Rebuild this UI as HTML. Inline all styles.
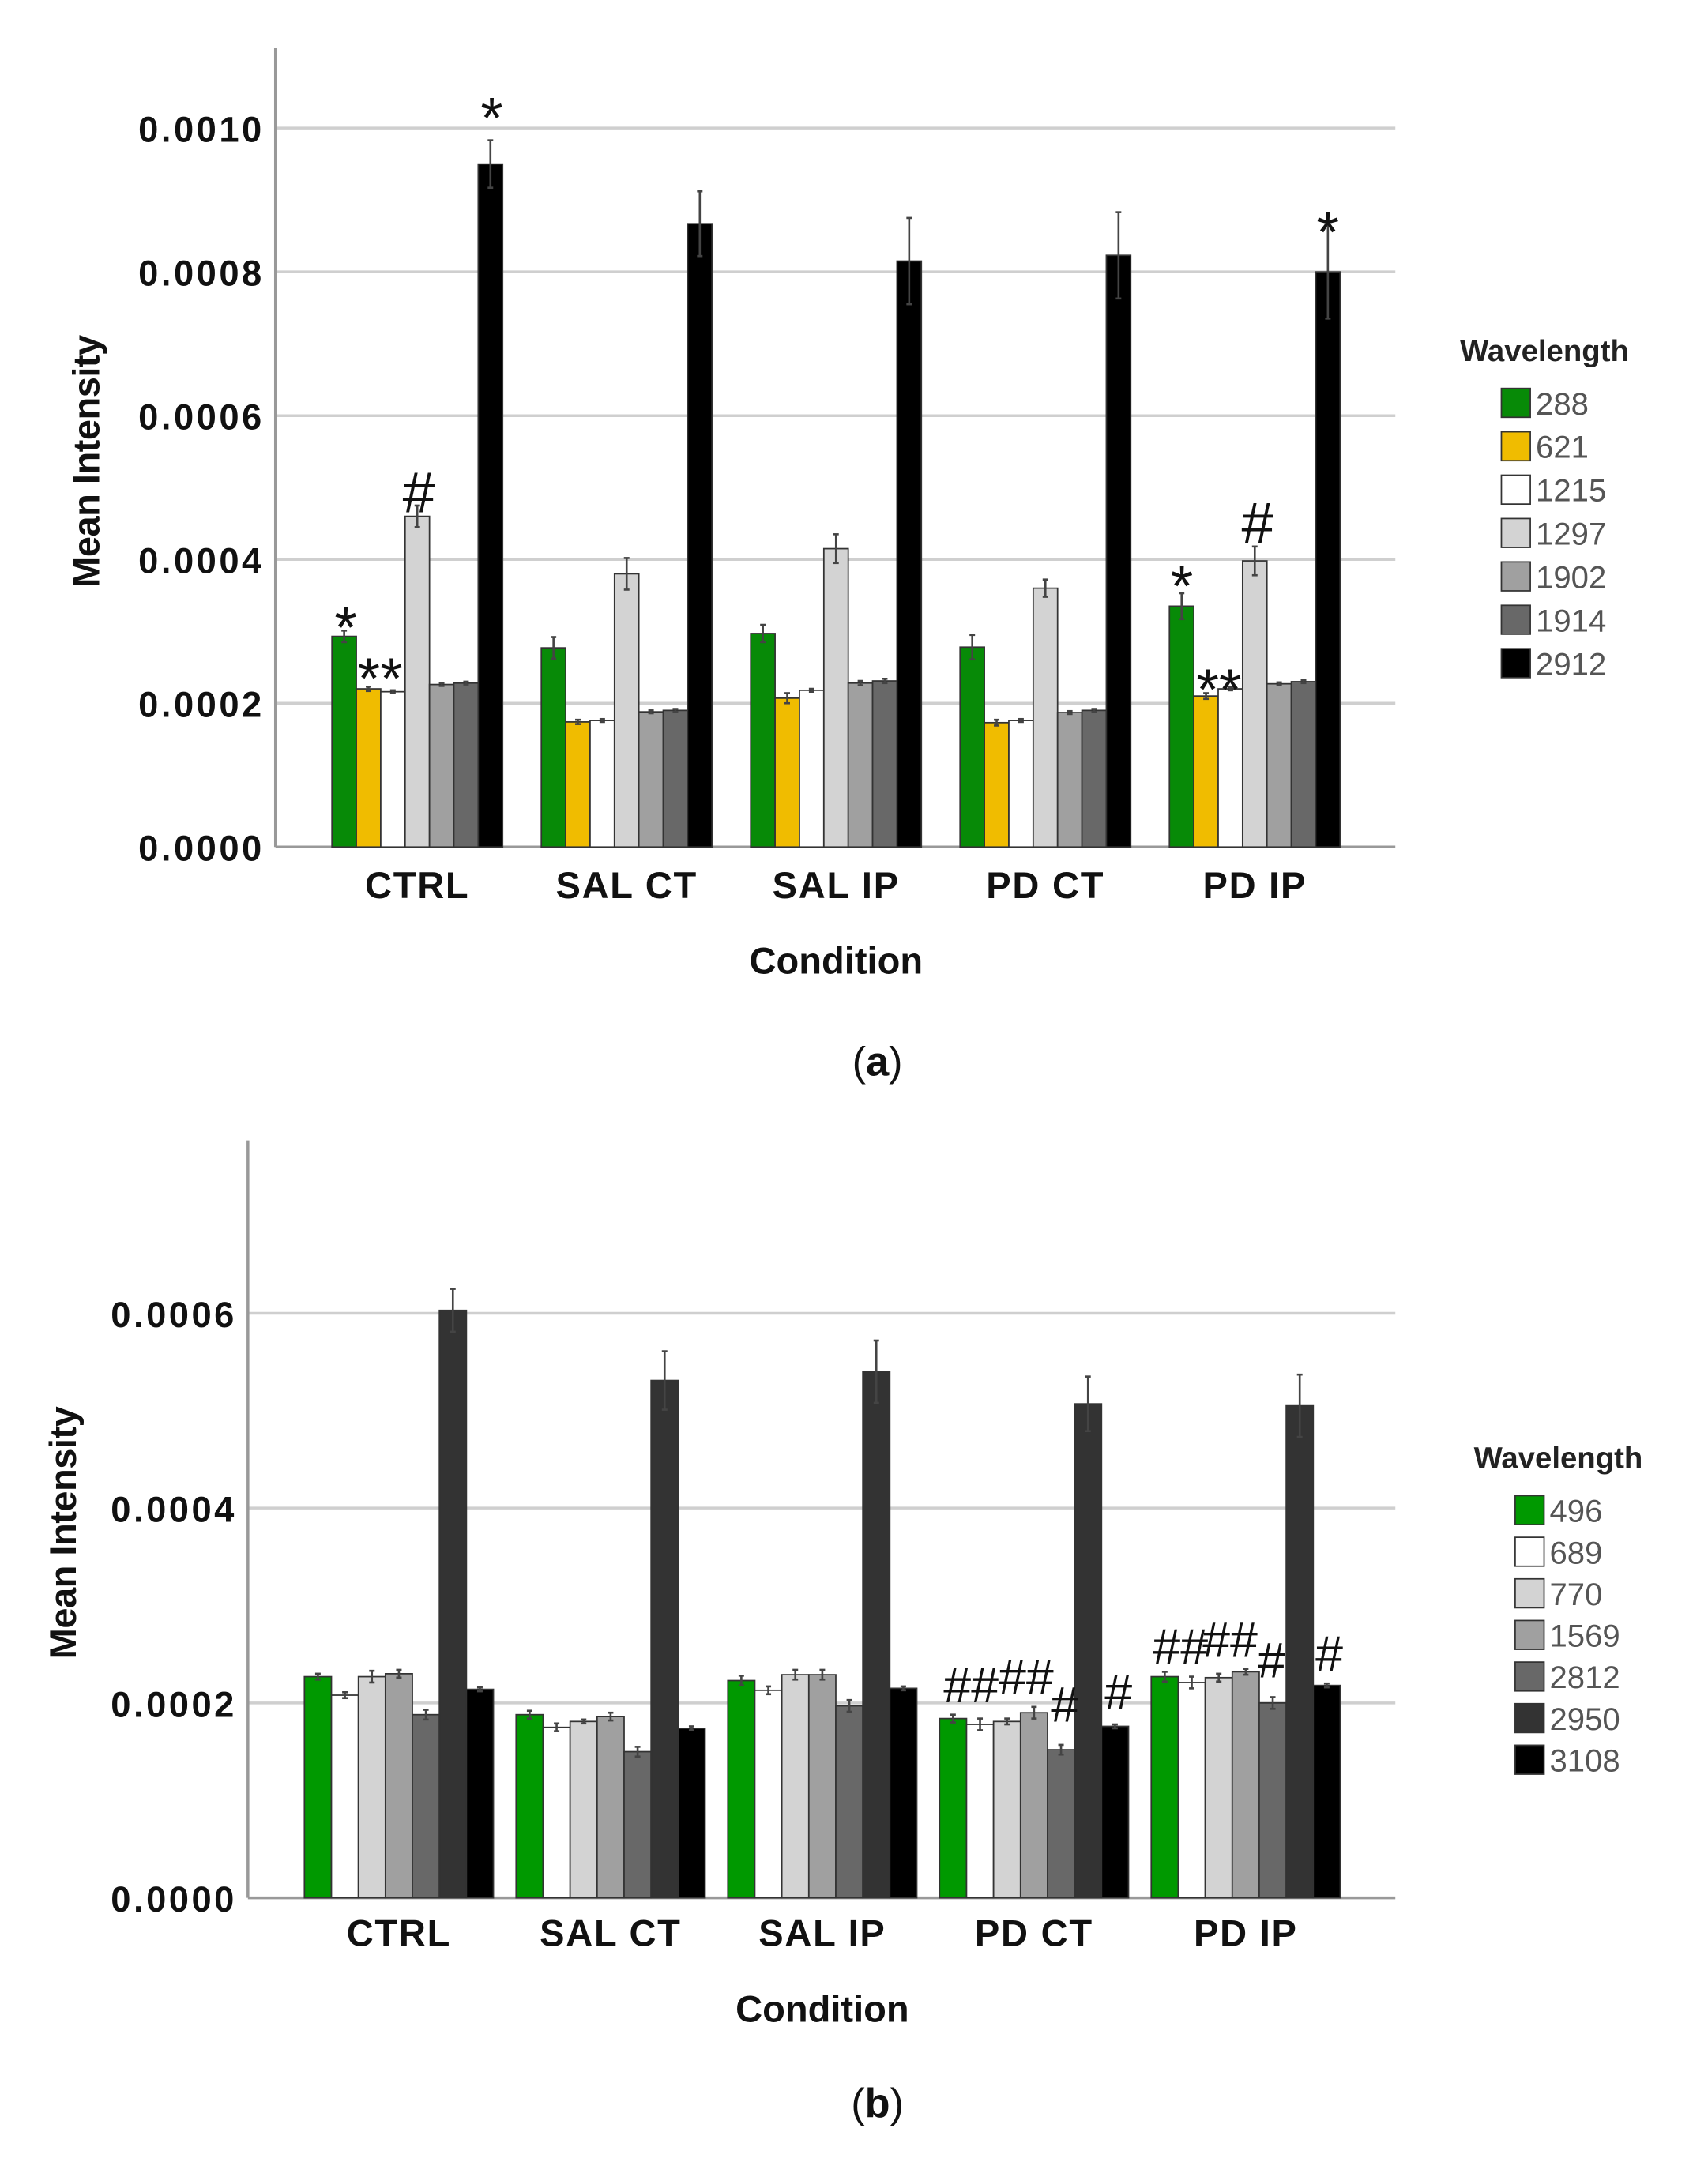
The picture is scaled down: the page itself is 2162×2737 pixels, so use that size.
<!DOCTYPE html>
<html><head><meta charset="utf-8"><style>
html,body{margin:0;padding:0;background:#fff}
svg{display:block}
text{font-family:"Liberation Sans",Arial,sans-serif}
</style></head><body>
<svg id="s" width="2162" height="2737" viewBox="0 0 1240 1569.8" preserveAspectRatio="none" xmlns="http://www.w3.org/2000/svg">
<rect width="1240" height="1570" fill="#fff"/>
<g id="g"></g>
</svg>
<script>
const NS="http://www.w3.org/2000/svg",G=document.getElementById('g');
function el(t,a,txt){const e=document.createElementNS(NS,t);for(const k in a)e.setAttribute(k,a[k]);if(txt!==undefined)e.textContent=txt;G.appendChild(e);return e;}
function chart(o){
  o.ticks.forEach((t,i)=>{const y=o.base-i*o.step;
    if(i>0)el('line',{x1:o.ax,x2:o.right,y1:y,y2:y,stroke:'#cfcfcf','stroke-width':2});
    el('text',{x:o.ax-8,y:y+10,'text-anchor':'end','font-size':26,'font-weight':'bold','letter-spacing':2,fill:'#111'},t);});
  el('line',{x1:o.ax,x2:o.ax,y1:o.top,y2:o.base,stroke:'#999','stroke-width':2});
  el('line',{x1:o.ax,x2:o.right,y1:o.base,y2:o.base,stroke:'#999','stroke-width':2});
  const u=o.step/2;
  o.data.forEach((grp,gi)=>{const gx=o.g0+gi*o.gs;
    grp.forEach((v,bi)=>{const x=gx+bi*o.bw,h=v[0]*u,y=o.base-h;
      el('rect',{x:x,y:y,width:o.bw,height:h,fill:o.colors[bi],stroke:'#333','stroke-width':1});
      const ee=v[1]*u,cx=x+o.bw/2;
      el('line',{x1:cx,x2:cx,y1:y-ee,y2:y+ee,stroke:'#444','stroke-width':1.5});
      el('line',{x1:cx-2,x2:cx+2,y1:y-ee,y2:y-ee,stroke:'#444','stroke-width':1.5});
      el('line',{x1:cx-2,x2:cx+2,y1:y+ee,y2:y+ee,stroke:'#444','stroke-width':1.5});
    });
    el('text',{x:gx+o.bw*3.5,y:o.catY,'text-anchor':'middle','font-size':27,'font-weight':'bold','letter-spacing':1,fill:'#111'},o.cats[gi]);
  });
  el('text',{x:o.condX,y:o.catY+55,'text-anchor':'middle','font-size':27,'font-weight':'bold',fill:'#111'},'Condition');
  el('text',{transform:`translate(${o.titX},${o.titY}) rotate(-90)`,'text-anchor':'middle','font-size':27,'font-weight':'bold',fill:'#111','letter-spacing':'-0.3'},'Mean Intensity');
  el('text',{x:o.lx-30,y:o.ly,'font-size':22,'font-weight':'bold',fill:'#222'},'Wavelength');
  o.leg.forEach((l,i)=>{const y=o.ly+20+i*o.lsp;
    el('rect',{x:o.lx,y:y,width:21,height:21,fill:o.colors[i],stroke:'#333','stroke-width':1});
    el('text',{x:o.lx+25,y:y+19,'font-size':23,fill:'#555'},l);});
  o.ann.forEach(a=>el('text',{x:a[0],y:a[1],'text-anchor':'middle','font-size':a[3]||42,fill:'#111'},a[2]));
}
const cats=['CTRL','SAL CT','SAL IP','PD CT','PD IP'];
chart({cats:cats,ax:200,right:1013,top:35,base:615,step:104.4,
 ticks:['0.0000','0.0002','0.0004','0.0006','0.0008','0.0010'],
 g0:241,gs:152,bw:17.7,catY:652,condX:607,titX:72,titY:335,
 colors:['#078a07','#f0bc00','#ffffff','#d3d3d3','#a0a0a0','#686868','#000000'],
 data:[
  [[2.93,.08],[2.20,.03],[2.16,.02],[4.60,.15],[2.26,.02],[2.28,.02],[9.50,.33]],
  [[2.77,.15],[1.74,.03],[1.76,.02],[3.80,.22],[1.88,.02],[1.90,.02],[8.67,.45]],
  [[2.97,.12],[2.07,.07],[2.18,.02],[4.15,.20],[2.28,.03],[2.31,.03],[8.15,.60]],
  [[2.78,.17],[1.73,.04],[1.76,.02],[3.60,.12],[1.87,.02],[1.90,.02],[8.23,.60]],
  [[3.35,.18],[2.10,.04],[2.20,.02],[3.98,.20],[2.27,.02],[2.30,.02],[8.00,.65]]],
 lx:1090,ly:262,lsp:31.5,leg:['288','621','1215','1297','1902','1914','2912'],
 ann:[[251,470,'*'],[276,507,'**'],[304,372,'#'],[357,100,'*'],[858,440,'*'],[885,515,'**'],[913,394,'#'],[964,183,'*']]});
chart({cats:cats,ax:180,right:1013,top:828,base:1378,step:141.5,
 ticks:['0.0000','0.0002','0.0004','0.0006'],
 g0:221,gs:153.7,bw:19.6,catY:1413,condX:597,titX:55,titY:1113,
 colors:['#009900','#ffffff','#d3d3d3','#a0a0a0','#686868','#333333','#000000'],
 data:[
  [[2.27,.03],[2.08,.03],[2.27,.06],[2.30,.04],[1.88,.05],[6.03,.22],[2.14,.02]],
  [[1.88,.04],[1.75,.04],[1.81,.02],[1.86,.04],[1.50,.05],[5.31,.30],[1.74,.02]],
  [[2.23,.05],[2.13,.04],[2.29,.05],[2.29,.05],[1.97,.06],[5.40,.32],[2.15,.02]],
  [[1.84,.04],[1.78,.06],[1.81,.03],[1.90,.06],[1.52,.05],[5.07,.28],[1.76,.02]],
  [[2.27,.05],[2.21,.06],[2.26,.04],[2.32,.03],[2.00,.06],[5.05,.32],[2.18,.02]]],
 lx:1100,ly:1066,lsp:30.2,leg:['496','689','770','1569','2812','2950','3108'],
 ann:[[705,1236,'##',36],[745,1230,'##',36],[773,1250,'#',36],[812,1241,'#',36],[857,1208,'##',36],[893,1203,'##',36],[923,1218,'#',36],[965,1213,'#',36]]});
el('text',{x:637,y:781,'text-anchor':'middle','font-size':30,'font-family':'Liberation Serif',fill:'#111'},'(a)').innerHTML='(<tspan font-weight="bold">a</tspan>)';
el('text',{x:637,y:1537,'text-anchor':'middle','font-size':30,'font-family':'Liberation Serif',fill:'#111'},'(b)').innerHTML='(<tspan font-weight="bold">b</tspan>)';
</script>
</body></html>
